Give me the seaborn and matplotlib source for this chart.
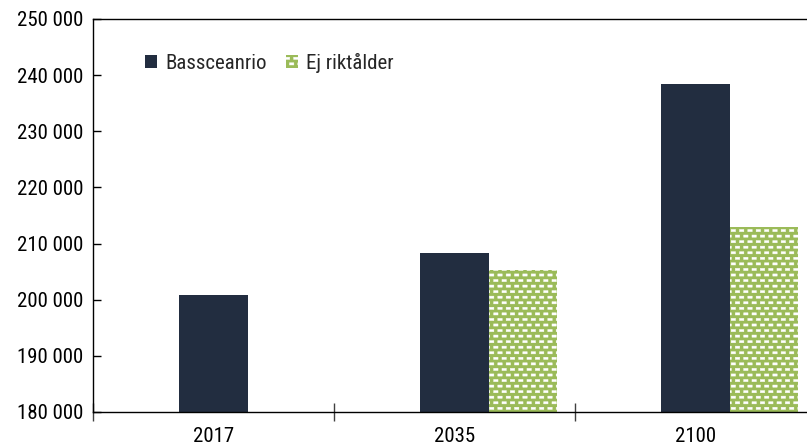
import numpy as np
import seaborn as sns
import pandas as pd
import matplotlib.pyplot as plt
import matplotlib.hatch as mhatch
from matplotlib.path import Path
from matplotlib.ticker import FuncFormatter, FixedLocator

YEARS = ["2017", "2035", "2100"]
BAS_VALUES = [200900, 208400, 238400]
EJ_VALUES = [None, 205300, 213000]
SERIES = ["_tom", "Bassceanrio", "Ej riktålder"]
COLORS = ["#ffffff", "#222d40", "#9bbb59"]


class BrickDashHatch(mhatch.HatchPatternBase):
    # staggered rows of small filled dashes, used with the "_" hatch character
    def __init__(self, hatch, density):
        n = hatch.count("_")
        self.rows = 18 * n
        self.cols = 12 * n
        self.num_vertices = self.rows * (self.cols + 1) * 5 if n else 0

    def set_vertices_and_codes(self, vertices, codes):
        w, h = 0.022, 0.011
        shape = np.array([[-w, -h], [w, -h], [w, h], [-w, h], [-w, -h]])
        shape_codes = [Path.MOVETO, Path.LINETO, Path.LINETO, Path.LINETO, Path.CLOSEPOLY]
        i = 0
        for r in range(self.rows):
            y = (r + 0.5) / self.rows
            shift = 0.5 / self.cols if r % 2 else 0.0
            for c in range(self.cols + 1):
                x = c / self.cols + shift
                vertices[i:i + 5] = shape + [x, y]
                codes[i:i + 5] = shape_codes
                i += 5


mhatch._hatch_types.append(BrickDashHatch)

if __name__ == "__main__":
    # Data
    rows = []
    for year, bas, ej in zip(YEARS, BAS_VALUES, EJ_VALUES):
        rows.append({"year": year, "serie": "Bassceanrio", "value": bas})
        if ej is not None:
            rows.append({"year": year, "serie": "Ej riktålder", "value": ej})
    dataDF = pd.DataFrame(rows)

    # Plot
    sns.set_style("white")
    plt.rcParams["font.family"] = ["Roboto Condensed", "Liberation Sans Narrow", "DejaVu Sans"]
    plt.rcParams["font.stretch"] = "condensed"
    plt.rcParams["hatch.linewidth"] = 0.3

    fig = plt.figure(figsize=(8.07, 4.46), dpi=100)
    ax = fig.add_axes([93 / 807, 34 / 446, 723 / 807, 393 / 446])

    sns.barplot(data=dataDF, x="year", y="value", hue="serie", order=YEARS,
                hue_order=SERIES, palette=COLORS, width=0.85, gap=0,
                dodge=True, ax=ax, legend=False, saturation=1, linewidth=0)

    # green bars get the white dash pattern
    for bar in ax.patches:
        r, g, b, _ = bar.get_facecolor()
        if g > 0.6 and r < 0.7:
            bar.set_hatch("_")
            bar.set_edgecolor("white")
            bar.set_linewidth(0)

    ax.set_xlim(-0.5, 2.5)
    ax.set_ylim(180000, 250000)
    ax.set_yticks(range(180000, 250001, 10000))
    ax.yaxis.set_major_formatter(FuncFormatter(lambda v, p: f"{v:,.0f}".replace(",", " ")))
    ax.set_xlabel("")
    ax.set_ylabel("")

    ax.xaxis.set_minor_locator(FixedLocator([-0.5, 0.5, 1.5, 2.5]))
    ax.tick_params(axis="x", which="major", bottom=True, length=0, pad=11, labelsize=15,
                   labelcolor="black")
    ax.tick_params(axis="x", which="minor", bottom=True, direction="inout", length=13,
                   width=1, color="#404040")
    ax.tick_params(axis="y", left=True, direction="in", length=6, width=1, pad=7,
                   labelsize=15, color="black", labelcolor="black")

    for side in ["left", "bottom", "top"]:
        ax.spines[side].set_color("black")
        ax.spines[side].set_linewidth(1)
    ax.spines["right"].set_visible(False)

    # Legend
    handles = [plt.Rectangle((0, 0), 1, 1, facecolor=COLORS[1], linewidth=0),
               plt.Rectangle((0, 0), 1, 1, facecolor=COLORS[2], hatch="_",
                             edgecolor="white", linewidth=0)]
    ax.legend(handles, SERIES[1:], loc="center left", bbox_to_anchor=(0.072, 0.888),
              ncol=2, frameon=False, fontsize=15, handlelength=0.58, handleheight=0.58,
              handletextpad=0.4, columnspacing=0.9, borderpad=0, borderaxespad=0)

    plt.savefig("out.png", dpi=100)
